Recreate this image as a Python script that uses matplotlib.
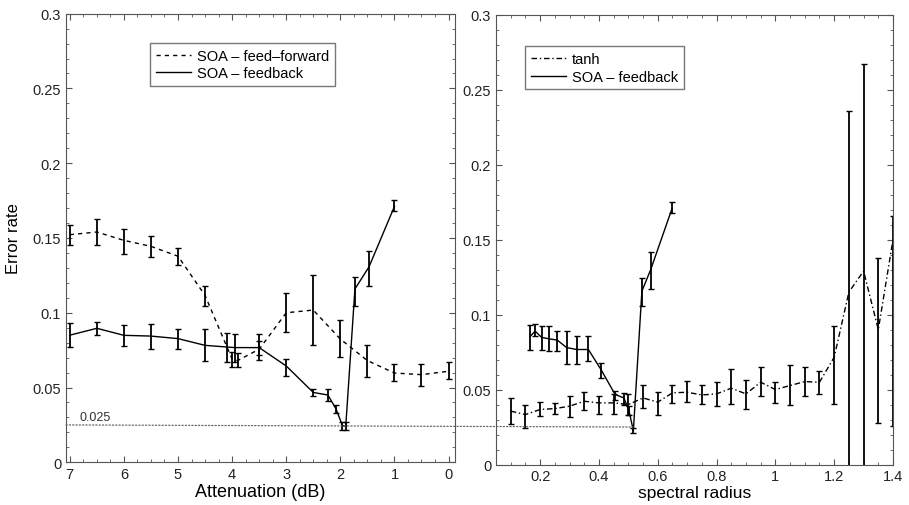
import matplotlib
matplotlib.use("Agg")
import matplotlib.pyplot as plt
from matplotlib.lines import Line2D
from matplotlib.patches import ConnectionPatch
from matplotlib.ticker import FixedLocator, FixedFormatter, MultipleLocator

plt.rcParams["font.family"] = ["Liberation Sans", "DejaVu Sans"]

# --- Left panel: error rate vs attenuation ---
ff_att = [7, 6.5, 6, 5.5, 5, 4.5, 4.0, 3.9, 3.5, 3, 2.5, 2, 1.5, 1, 0.5, 0]
ff_err = [0.1522, 0.154, 0.1484, 0.1444, 0.1378, 0.1116, 0.069, 0.068,
          0.0756, 0.100, 0.1018, 0.0824, 0.068, 0.0597, 0.0586, 0.0609]
ff_lo = [0.145, 0.1456, 0.139, 0.1376, 0.1316, 0.1044, 0.064, 0.064,
         0.0684, 0.0871, 0.0782, 0.0702, 0.0573, 0.0542, 0.0512, 0.0557]
ff_hi = [0.159, 0.163, 0.156, 0.1516, 0.1433, 0.1178, 0.074, 0.073,
         0.0856, 0.1133, 0.1251, 0.0952, 0.0784, 0.0657, 0.0657, 0.0669]

fb_att = [7, 6.5, 6, 5.5, 5, 4.5, 4.1, 3.95, 3.5, 3, 2.5, 2.23, 2.08, 1.96,
          1.9, 1.73, 1.47, 1.0]
fb_err = [0.085, 0.0896, 0.0849, 0.0844, 0.0827, 0.0782, 0.0771, 0.0767,
          0.0767, 0.0644, 0.0467, 0.045, 0.0357, 0.0245, 0.024, 0.1159,
          0.1307, 0.1711]
fb_lo = [0.0771, 0.0851, 0.0778, 0.076, 0.0756, 0.0678, 0.0669, 0.0669,
         0.072, 0.0578, 0.0444, 0.0412, 0.033, 0.0218, 0.0218, 0.1047,
         0.1181, 0.1678]
fb_hi = [0.0929, 0.094, 0.0918, 0.0927, 0.0893, 0.0893, 0.0865, 0.0858,
         0.081, 0.0689, 0.0489, 0.049, 0.038, 0.0267, 0.0267, 0.1237,
         0.1415, 0.1751]

# --- Right panel: error rate vs spectral radius ---
tanh_sr = [0.1, 0.15, 0.2, 0.25, 0.3, 0.35, 0.4, 0.45, 0.5, 0.55, 0.6, 0.65,
           0.7, 0.75, 0.8, 0.85, 0.9, 0.95, 1.0, 1.05, 1.1, 1.15, 1.2, 1.25,
           1.3, 1.35, 1.4]
tanh_err = [0.0356, 0.0333, 0.0367, 0.0373, 0.0389, 0.0422, 0.0411, 0.0411,
            0.040, 0.0444, 0.0416, 0.0478, 0.0482, 0.0464, 0.0471, 0.0509,
            0.0471, 0.0549, 0.050, 0.0527, 0.0553, 0.0549, 0.0716, 0.115,
            0.129, 0.090, 0.150]
tanh_lo = [0.0271, 0.0244, 0.0322, 0.0338, 0.0318, 0.0362, 0.034, 0.034,
           0.0333, 0.0378, 0.0333, 0.0411, 0.0416, 0.0404, 0.0389, 0.0404,
           0.0367, 0.046, 0.0411, 0.0398, 0.0456, 0.0467, 0.0404, -0.006,
           -0.01, 0.0278, 0.0256]
tanh_hi = [0.0444, 0.0396, 0.0416, 0.0407, 0.0456, 0.0484, 0.046, 0.0471,
           0.0467, 0.0527, 0.0482, 0.0533, 0.0556, 0.0527, 0.0549, 0.0638,
           0.0564, 0.0649, 0.0549, 0.0664, 0.0649, 0.0622, 0.0927, 0.2356,
           0.2673, 0.1378, 0.166]

sfb_sr = [0.166, 0.183, 0.205, 0.231, 0.258, 0.29, 0.324, 0.364, 0.407,
          0.455, 0.485, 0.502, 0.517, 0.546, 0.576, 0.648]
sfb_err = [0.0855, 0.0889, 0.0848, 0.0838, 0.083, 0.078, 0.0767, 0.0767,
           0.0633, 0.0467, 0.0444, 0.036, 0.0225, 0.1156, 0.130, 0.1704]
sfb_lo = [0.0767, 0.086, 0.0767, 0.0756, 0.0756, 0.0671, 0.0671, 0.0689,
          0.0578, 0.0433, 0.040, 0.033, 0.021, 0.1056, 0.117, 0.168]
sfb_hi = [0.0933, 0.094, 0.0922, 0.0922, 0.0893, 0.0893, 0.086, 0.086,
          0.068, 0.0489, 0.048, 0.039, 0.0245, 0.1244, 0.142, 0.175]

threshold = 0.025

y_ticks = [0, 0.05, 0.1, 0.15, 0.2, 0.25, 0.3]
y_labels = ["0", "0.05", "0.1", "0.15", "0.2", "0.25", "0.3"]
att_ticks = [7, 6, 5, 4, 3, 2, 1, 0]
att_labels = ["7", "6", "5", "4", "3", "2", "1", "0"]
sr_ticks = [0.2, 0.4, 0.6, 0.8, 1.0, 1.2, 1.4]
sr_labels = ["0.2", "0.4", "0.6", "0.8", "1", "1.2", "1.4"]


def yerr(vals, lo, hi):
    return [[v - l for v, l in zip(vals, lo)], [h - v for v, h in zip(vals, hi)]]


def style_axes(ax):
    for sp in ax.spines.values():
        sp.set_color("#555555")
        sp.set_linewidth(0.8)
    ax.tick_params(which="both", direction="in", top=True, right=True,
                   colors="#555555", labelcolor="#222222", labelsize=10.5)
    ax.tick_params(which="major", length=4)
    ax.tick_params(which="minor", length=2)
    ax.yaxis.set_major_locator(FixedLocator(y_ticks))
    ax.yaxis.set_major_formatter(FixedFormatter(y_labels))
    ax.yaxis.set_minor_locator(MultipleLocator(0.01))
    ax.set_ylim(0, 0.3)


def add_legend(ax, styles, labels, anchor):
    handles = [Line2D([], [], color="black", lw=1.0, linestyle=s) for s in styles]
    ax.legend(handles=handles, labels=labels, loc="upper left",
              bbox_to_anchor=anchor, borderaxespad=0, fontsize=10.5,
              frameon=True, fancybox=False, edgecolor="#777777", framealpha=1,
              handlelength=2.4, handletextpad=0.4, borderpad=0.4,
              labelspacing=0.25)


fig = plt.figure(figsize=(9.09, 5.06), dpi=100)
ax1 = fig.add_axes([0.0726, 0.0844, 0.428, 0.8866])
ax2 = fig.add_axes([0.5457, 0.080, 0.4367, 0.889])

eb_kw = dict(color="black", ecolor="black", elinewidth=1.3, capsize=2.5,
             capthick=1.0, linewidth=1.0)
dashed = (0, (3, 3))
dashdot = (0, (4, 2, 1, 2))

ax1.errorbar(ff_att, ff_err, yerr=yerr(ff_err, ff_lo, ff_hi), linestyle=dashed, **eb_kw)
ax1.errorbar(fb_att, fb_err, yerr=yerr(fb_err, fb_lo, fb_hi), linestyle="-", **eb_kw)
ax1.set_xlim(7.07, -0.12)
ax1.xaxis.set_major_locator(FixedLocator(att_ticks))
ax1.xaxis.set_major_formatter(FixedFormatter(att_labels))
ax1.xaxis.set_minor_locator(MultipleLocator(0.25))
style_axes(ax1)
ax1.set_xlabel("Attenuation (dB)", fontsize=13, labelpad=1)
ax1.set_ylabel("Error rate", fontsize=12, labelpad=8)
ax1.text(6.82, threshold + 0.003, "0.025", fontsize=9, color="#333333")
add_legend(ax1, [dashed, "-"], ["SOA \u2013 feed\u2013forward", "SOA \u2013 feedback"],
           (0.216, 0.935))

ax2.errorbar(tanh_sr, tanh_err, yerr=yerr(tanh_err, tanh_lo, tanh_hi),
             linestyle=dashdot, **eb_kw)
ax2.errorbar(sfb_sr, sfb_err, yerr=yerr(sfb_err, sfb_lo, sfb_hi), linestyle="-", **eb_kw)
ax2.set_xlim(0.05, 1.4)
ax2.xaxis.set_major_locator(FixedLocator(sr_ticks))
ax2.xaxis.set_major_formatter(FixedFormatter(sr_labels))
ax2.xaxis.set_minor_locator(MultipleLocator(0.05))
style_axes(ax2)
ax2.set_xlabel("spectral radius", fontsize=12.5, labelpad=1)
add_legend(ax2, [dashdot, "-"], ["tanh", "SOA \u2013 feedback"], (0.073, 0.93))

# dotted 0.025 reference line running across both panels
con = ConnectionPatch(xyA=(7.07, threshold), coordsA="data", axesA=ax1,
                      xyB=(0.515, threshold), coordsB="data", axesB=ax2,
                      color="#666666", linestyle=":", linewidth=0.9)
fig.add_artist(con)

fig.savefig("out.png", dpi=100)
